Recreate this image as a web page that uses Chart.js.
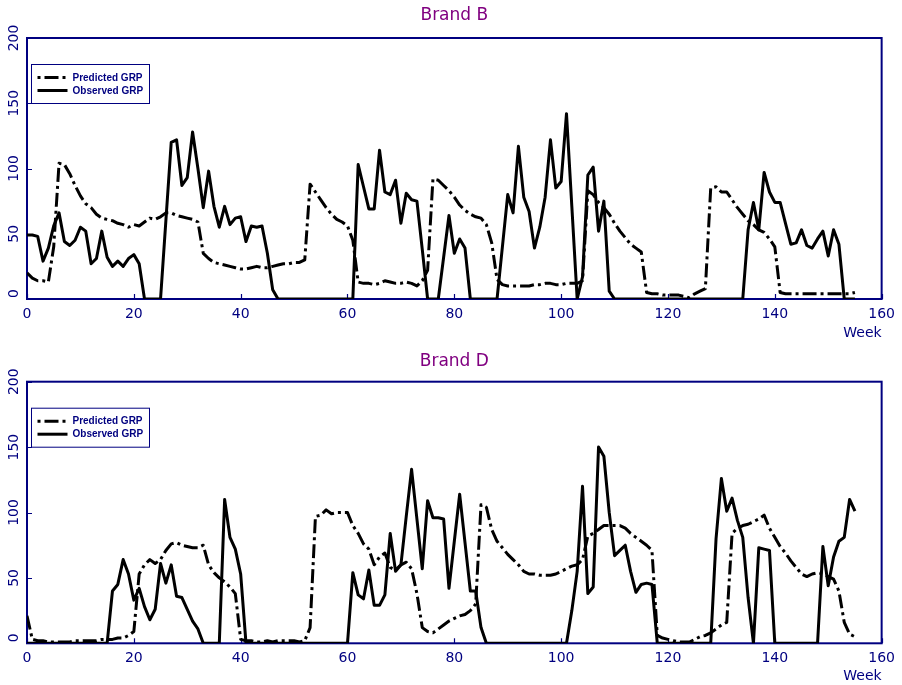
<!DOCTYPE html>
<html><head><meta charset="utf-8">
<script src="https://cdn.jsdelivr.net/npm/chart.js@4.4.1/dist/chart.umd.min.js"></script>
<style>
html,body{margin:0;padding:0;background:#fff;}
#wrap{position:relative;width:902px;height:685px;overflow:hidden;}
canvas{position:absolute;left:0;}
</style></head><body>
<div id="wrap">
<canvas id="cB" width="902" height="342" style="top:0px"></canvas>
<canvas id="cD" width="902" height="343" style="top:342px"></canvas>
</div>
<script>
// ---------- data ----------
const weeks = [
  0,1,2,3,4,5,6,7,8,9,10,11,12,13,14,15,16,17,18,19,
  20,21,22,23,24,25,26,27,28,29,30,31,32,33,34,35,36,37,38,39,
  40,41,42,43,44,45,46,47,48,49,50,51,52,53,54,55,56,57,58,59,
  60,61,62,63,64,65,66,67,68,69,70,71,72,73,74,75,76,77,78,79,
  80,81,82,83,84,85,86,87,88,89,90,91,92,93,94,95,96,97,98,99,
  100,101,102,103,104,105,106,107,108,109,110,111,112,113,114,115,116,117,118,119,
  120,121,122,123,124,125,126,127,128,129,130,131,132,133,134,135,136,137,138,139,
  140,141,142,143,144,145,146,147,148,149,150,151,152,153,154,155
];
const xTicks = [0,20,40,60,80,100,120,140,160];
const yTicks = [0,50,100,150,200];
const seriesNames = ['Predicted GRP','Observed GRP'];
const chartTitles = ['Brand B','Brand D'];
const xAxisTitle = 'Week';

const brandB_predicted = [
  20,16,14,14,13,40,104,103,96,87,
  79,73,70,65,62,61,60,58,57,55,
  57,56,59,62,61,63,66,66,64,63,
  62,61,59,35,31,28,27,26,25,24,
  23,23,24,25,24,24,25,26,27,27,
  28,28,30,88,82,76,70,65,61,59,
  56,45,13,12,12,11,12,14,13,12,
  12,13,12,10,14,22,92,91,87,83,
  78,72,68,65,63,62,57,43,15,11,
  10,10,10,10,10,11,11,12,12,11,
  11,12,12,12,14,83,80,74,70,65,
  58,52,47,42,39,36,5,4,4,3,
  3,3,3,2,1,4,6,8,85,86,
  82,82,76,70,65,60,57,53,51,46,
  40,5,4,4,4,4,4,4,4,4,
  4,4,4,4,4,5
];
const brandB_observed = [
  49,49,48,29,39,56,66,44,41,45,
  55,52,27,31,52,32,25,29,25,31,
  34,27,0,0,0,0,60,120,122,87,
  93,128,100,70,98,71,55,71,57,62,
  63,44,56,55,56,35,7,0,0,0,
  0,0,0,0,0,0,0,0,0,0,
  0,0,103,86,69,69,114,82,80,91,
  58,81,76,75,38,0,0,0,32,64,
  35,46,39,0,0,0,0,0,0,40,
  80,66,117,78,67,39,55,78,122,85,
  90,142,71,0,17,95,101,52,75,6,
  0,0,0,0,0,0,0,0,0,0,
  0,0,0,0,0,0,0,0,0,0,
  0,0,0,0,0,53,74,53,97,82,
  74,74,58,42,43,53,41,39,46,52,
  33,53,42,0,0,0
];
const brandD_predicted = [
  21,3,2,2,1,1,1,1,1,2,
  2,2,2,2,3,3,3,4,4,6,
  9,53,60,64,61,64,71,76,77,75,
  74,73,73,75,60,54,50,47,43,38,
  3,2,2,1,1,2,1,2,2,2,
  2,1,2,12,97,98,102,99,100,100,
  100,90,84,76,72,60,66,69,58,56,
  60,62,57,38,12,9,8,11,14,17,
  19,21,22,25,30,106,104,87,78,73,
  68,64,60,55,53,53,52,52,52,53,
  55,57,59,60,64,82,84,87,90,90,
  90,90,88,84,81,78,75,71,6,4,
  3,2,1,1,1,3,5,6,8,11,
  14,16,84,88,90,91,93,95,98,88,
  81,74,69,63,58,53,51,53,54,53,
  51,49,40,16,7,5
];
const brandD_observed = [
  0,0,0,0,0,0,0,0,0,0,
  0,0,0,0,0,0,40,45,64,53,
  33,42,28,18,26,61,46,60,36,35,
  26,17,11,0,0,0,0,110,81,72,
  53,0,0,0,0,0,0,0,0,0,
  0,0,0,0,0,0,0,0,0,0,
  0,54,37,34,56,29,29,37,84,55,
  60,97,133,95,57,109,96,96,95,42,
  78,114,77,40,40,12,0,0,0,0,
  0,0,0,0,0,0,0,0,0,0,
  0,0,25,55,120,38,43,150,143,100,
  67,71,75,55,39,45,46,45,0,0,
  0,0,0,0,0,0,0,0,0,80,
  126,101,111,94,81,35,0,73,72,71,
  0,0,0,0,0,0,0,0,0,74,
  44,66,78,81,110,101
];

// ---------- styles ----------
const NAVY = '#000080';
const PURPLE = '#800080';
const FONT = '"DejaVu Sans", "Liberation Sans", sans-serif';
const DASH = [14,4,3,4];

const framePlugin = {
  id: 'frameTicks',
  beforeDatasetsDraw(chart) {
    const {ctx, chartArea: a, scales} = chart;
    ctx.save();
    ctx.strokeStyle = NAVY;
    ctx.lineWidth = 2;
    ctx.strokeRect(a.left, a.top, a.right - a.left, a.bottom - a.top);
    ctx.lineWidth = 1.2;
    ctx.beginPath();
    xTicks.forEach(v => {
      const px = Math.round(scales.x.getPixelForValue(v)) + 0.5;
      ctx.moveTo(px, a.bottom); ctx.lineTo(px, a.bottom - 5);
    });
    yTicks.forEach(v => {
      const py = Math.round(scales.y.getPixelForValue(v)) + 0.5;
      ctx.moveTo(a.left, py); ctx.lineTo(a.left + 5, py);
    });
    ctx.stroke();
    // rotated y tick labels
    ctx.fillStyle = NAVY;
    ctx.font = '14px ' + FONT;
    ctx.textBaseline = 'middle';
    yTicks.forEach(v => {
      const py = scales.y.getPixelForValue(v);
      ctx.save();
      ctx.translate(14, v === 0 ? py - 1 : py);
      ctx.rotate(-Math.PI / 2);
      ctx.textAlign = v === 0 ? 'left' : 'center';
      ctx.fillText(String(v), 0, 0);
      ctx.restore();
    });
    ctx.restore();
  }
};

const legendPlugin = {
  id: 'boxLegend',
  afterDatasetsDraw(chart) {
    const {ctx, chartArea: a} = chart;
    const bx = a.left + 4.5, by = a.top + 26.5, bw = 118, bh = 39;
    ctx.save();
    ctx.fillStyle = '#fff';
    ctx.fillRect(bx, by, bw, bh);
    ctx.strokeStyle = NAVY;
    ctx.lineWidth = 1;
    ctx.strokeRect(bx, by, bw, bh);
    chart.data.datasets.forEach((ds, i) => {
      const y = by + 13 + i * 13;
      ctx.beginPath();
      ctx.strokeStyle = ds.borderColor;
      ctx.lineWidth = 3;
      ctx.setLineDash(ds.borderDash ? [3,4,14,4] : []);
      ctx.moveTo(bx + 6, y); ctx.lineTo(bx + 36, y);
      ctx.stroke();
      ctx.setLineDash([]);
      ctx.fillStyle = NAVY;
      ctx.font = 'bold 10px "Liberation Sans", Arial, sans-serif';
      ctx.textAlign = 'left';
      ctx.textBaseline = 'middle';
      ctx.fillText(ds.label, bx + 41, y + 0.5);
    });
    ctx.restore();
  }
};

function makeChart(id, title, pred, obs, titlePad, xAxisHeight) {
  return new Chart(document.getElementById(id), {
    type: 'line',
    data: {
      datasets: [
        { label: seriesNames[0], data: weeks.map((w, i) => ({x: w, y: pred[i]})),
          borderColor: '#000', borderWidth: 3, borderDash: DASH, borderCapStyle: 'butt',
          borderJoinStyle: 'round', pointRadius: 0, fill: false, tension: 0 },
        { label: seriesNames[1], data: weeks.map((w, i) => ({x: w, y: obs[i]})),
          borderColor: '#000', borderWidth: 3, borderJoinStyle: 'round',
          pointRadius: 0, fill: false, tension: 0 }
      ]
    },
    options: {
      responsive: false, animation: false, devicePixelRatio: 1,
      layout: { padding: { left: 0, right: 18, top: 0, bottom: 0 } },
      plugins: {
        legend: { display: false },
        tooltip: { enabled: false },
        title: { display: true, fullSize: false, text: title, color: PURPLE,
                 font: { family: FONT, size: 17, weight: 'normal' }, padding: titlePad }
      },
      scales: {
        x: {
          type: 'linear', min: 0, max: 160,
          afterBuildTicks(s) { s.ticks = xTicks.map(v => ({ value: v })); },
          afterFit(s) { s.height = xAxisHeight; },
          ticks: { color: NAVY, font: { family: FONT, size: 14 }, padding: 7, maxRotation: 0, autoSkip: false },
          grid: { display: false, drawTicks: false },
          border: { display: false },
          title: { display: true, text: xAxisTitle, align: 'end', color: NAVY,
                   font: { family: FONT, size: 14 }, padding: { top: 0, bottom: 0 } }
        },
        y: {
          min: 0, max: 200,
          afterBuildTicks(s) { s.ticks = yTicks.map(v => ({ value: v })); },
          afterFit(s) { s.width = 27; },
          ticks: { display: false },
          grid: { display: false, drawTicks: false },
          border: { display: false }
        }
      }
    },
    plugins: [framePlugin, legendPlugin]
  });
}

makeChart('cB', chartTitles[0], brandB_predicted, brandB_observed, { top: 5, bottom: 12.6 }, 43);
makeChart('cD', chartTitles[1], brandD_predicted, brandD_observed, { top: 9.5, bottom: 9.8 }, 41.7);
</script>
</body></html>
